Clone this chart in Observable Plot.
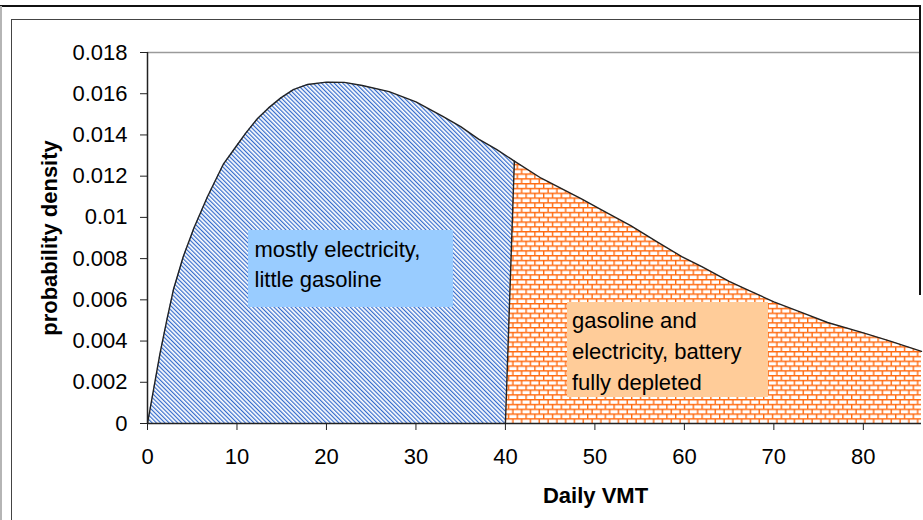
<!DOCTYPE html>
<html>
<head>
<meta charset="utf-8">
<script src="https://cdn.jsdelivr.net/npm/d3@7"></script>
<script src="https://cdn.jsdelivr.net/npm/@observablehq/plot@0.6"></script>
<style>
  html, body { margin: 0; padding: 0; background: #fff; }
  #wrap { position: relative; width: 923px; height: 520px; overflow: hidden;
          font-family: "Liberation Sans", Arial, sans-serif; }
  #chart svg { display: block; }
  .frame { position: absolute; pointer-events: none; }
  .note { position: absolute; font-size: 22px; color: #000; box-sizing: border-box; white-space: nowrap; }
</style>
</head>
<body>
<div id="wrap">
  <div id="chart"></div>
  <div class="frame" style="left:0;top:5px;width:921px;height:2px;background:#111"></div>
  <div class="frame" style="left:0;top:6px;width:1.5px;height:514px;background:#b5b5b5"></div>
  <div class="frame" style="left:10.5px;top:18.5px;width:1.5px;height:502px;background:#444"></div>
  <div class="frame" style="left:11px;top:18.5px;width:909px;height:1.5px;background:#444"></div>
  <div class="frame" style="left:918.5px;top:5px;width:2.5px;height:290px;background:#111"></div>
</div>
<script>
// ---- data ----
const vmt = [0, 0.7, 1.4, 2.2, 2.9, 4, 5.2, 6.7, 8.5, 10, 11, 12.3, 13.5, 14.9, 16.3, 17.9, 20, 22, 24, 27, 30, 33, 35, 37, 39, 41, 44, 48.5, 51, 54, 57, 59.7, 62, 65, 67, 70, 73, 76, 80, 83, 86.5];
const density = [0, 0.0017, 0.0034, 0.0051, 0.0065, 0.0081, 0.0095, 0.0110, 0.0126, 0.0135, 0.0141, 0.0148, 0.0153, 0.0158, 0.0162, 0.01645, 0.01656, 0.01655, 0.0164, 0.0161, 0.0156, 0.0149, 0.0144, 0.0138, 0.0133, 0.01273, 0.0119, 0.0109, 0.0103, 0.0096, 0.0088, 0.0081, 0.0076, 0.0069, 0.0065, 0.0059, 0.0054, 0.0049, 0.0044, 0.0040, 0.0035];
const batteryRange = 40;      // gasoline series starts at zero here
const depletedFrom = 41;      // first sample of the gasoline series
const xTicks = [0, 10, 20, 30, 40, 50, 60, 70, 80];
const yTicks = [0, 0.002, 0.004, 0.006, 0.008, 0.01, 0.012, 0.014, 0.016, 0.018];
const xDomain = [0, 86.5];
const yDomain = [0, 0.018];
const xTitle = "Daily VMT";
const yTitle = "probability density";
const noteElectric = ["mostly electricity,", "little gasoline"];
const noteGasoline = ["gasoline and", "electricity, battery", "fully depleted"];

const pts = vmt.map((x, i) => ({x, y: density[i]}));
const electricity = pts.filter(d => d.x <= depletedFrom);
const gasoline = [{x: batteryRange, y: 0}, ...pts.filter(d => d.x >= depletedFrom)];

const fmt = d => d === 0 ? "0" : String(+d.toFixed(3));

const chart = Plot.plot({
  width: 923,
  height: 520,
  marginLeft: 147,
  marginRight: 2,
  marginTop: 52,
  marginBottom: 97,
  style: {fontFamily: '"Liberation Sans", Arial, sans-serif', fontSize: "22px", color: "#000", background: "transparent"},
  x: {domain: xDomain},
  y: {domain: yDomain},
  marks: [
    Plot.areaY(electricity, {x: "x", y: "y", fill: "url(#hatchBlue)"}),
    Plot.areaY(gasoline, {x: "x", y: "y", fill: "url(#brickOrange)"}),
    Plot.line(electricity, {x: "x", y: "y", stroke: "#222", strokeWidth: 1.4}),
    Plot.line(gasoline, {x: "x", y: "y", stroke: "#222", strokeWidth: 1.4}),
    Plot.ruleY([yDomain[1]], {stroke: "#9a9a9a", strokeWidth: 1.5}),
    Plot.ruleX([0], {stroke: "#222", strokeWidth: 1.5}),
    Plot.ruleY([0], {stroke: "#222", strokeWidth: 1.5}),
    Plot.axisX(xTicks, {tickSize: 7, tickPadding: 18, label: null, fontSize: 22, fill: "#000", stroke: "#222"}),
    Plot.axisY(yTicks, {tickSize: 7, tickPadding: 13, tickFormat: fmt, label: null, fontSize: 22, fill: "#000", stroke: "#222"}),
    Plot.text([yTitle], {frameAnchor: "left", textAnchor: "middle", lineAnchor: "middle", rotate: -90, dx: -98, fontWeight: "bold", fontSize: 22, fill: "#000"}),
    Plot.text([xTitle], {frameAnchor: "bottom", textAnchor: "middle", lineAnchor: "middle", dx: 61, dy: 72, fontWeight: "bold", fontSize: 22, fill: "#000"})
  ]
});

// patterns
const svg = d3.select(chart);
const defs = svg.insert("defs", ":first-child");
const hp = defs.append("pattern").attr("id", "hatchBlue")
  .attr("patternUnits", "userSpaceOnUse").attr("width", 3).attr("height", 3)
  .attr("patternTransform", "rotate(-45)");
hp.append("rect").attr("width", 3).attr("height", 3).attr("fill", "#fff");
hp.append("rect").attr("width", 1.2).attr("height", 3).attr("fill", "#346bcc");

const bp = defs.append("pattern").attr("id", "brickOrange")
  .attr("patternUnits", "userSpaceOnUse").attr("width", 8.8).attr("height", 9.6)
  .attr("x", 147).attr("y", 423);
bp.append("rect").attr("width", 8.8).attr("height", 9.6).attr("fill", "#fff");
bp.append("path").attr("d", "M0,0.7H8.8M0,5.5H8.8M0.7,0V4.8M5.1,4.8V9.6")
  .attr("stroke", "#ff6a10").attr("stroke-width", 1.4).attr("fill", "none");

document.getElementById("chart").appendChild(chart);

// annotation boxes
const wrap = document.getElementById("wrap");
function note(lines, style) {
  const div = document.createElement("div");
  div.className = "note";
  Object.assign(div.style, style);
  lines.forEach((t, i) => {
    if (i) div.appendChild(document.createElement("br"));
    div.appendChild(document.createTextNode(t));
  });
  wrap.appendChild(div);
}
note(noteElectric, {left: "248px", top: "230px", width: "205px", height: "77px",
  background: "#99ccff", padding: "5px 0 0 6.5px", lineHeight: "30px"});
note(noteGasoline, {left: "567px", top: "302px", width: "201px", height: "95px",
  background: "#ffcc99", padding: "3px 0 0 5px", lineHeight: "31px"});
</script>
</body>
</html>
